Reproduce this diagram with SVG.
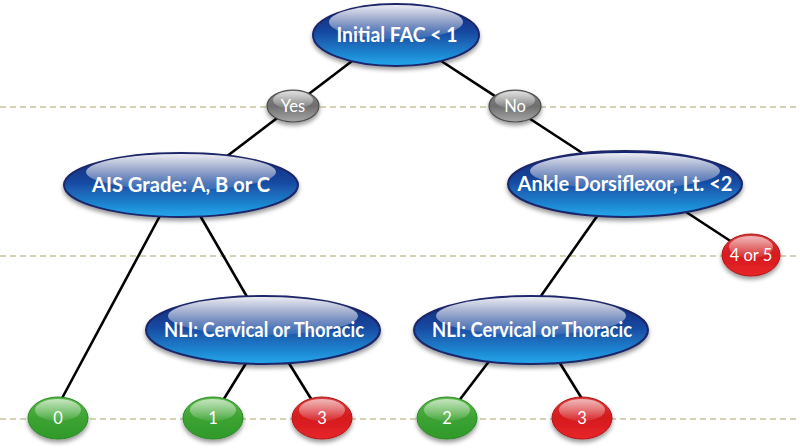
<svg xmlns="http://www.w3.org/2000/svg" width="800" height="448" viewBox="0 0 800 448">
<defs>
<linearGradient id="gBlue" x1="0" y1="0" x2="0" y2="1">
<stop offset="0" stop-color="#0f2470"/>
<stop offset="0.45" stop-color="#1848a0"/>
<stop offset="1" stop-color="#22a8ec"/>
</linearGradient>
<linearGradient id="gGray" x1="0" y1="0" x2="0" y2="1">
<stop offset="0" stop-color="#8a8a8a"/>
<stop offset="0.5" stop-color="#6e6e6e"/>
<stop offset="1" stop-color="#a8a8a8"/>
</linearGradient>
<linearGradient id="gGreen" x1="0" y1="0" x2="0" y2="1">
<stop offset="0" stop-color="#5cb84a"/>
<stop offset="0.5" stop-color="#3ca332"/>
<stop offset="1" stop-color="#2f9a2a"/>
</linearGradient>
<linearGradient id="gRed" x1="0" y1="0" x2="0" y2="1">
<stop offset="0" stop-color="#d83a3a"/>
<stop offset="0.5" stop-color="#d51a1e"/>
<stop offset="1" stop-color="#e8262a"/>
</linearGradient>
<linearGradient id="gGloss" x1="0" y1="0" x2="0" y2="1">
<stop offset="0" stop-color="#ffffff" stop-opacity="0.92"/>
<stop offset="1" stop-color="#ffffff" stop-opacity="0.1"/>
</linearGradient>
<filter id="sh" x="-20%" y="-30%" width="140%" height="170%">
<feDropShadow dx="0" dy="3" stdDeviation="2" flood-color="#000" flood-opacity="0.4"/>
</filter>
</defs>
<style>
.dash{stroke:#c9c39c;stroke-width:1.6;stroke-dasharray:6 4;fill:none}
.con line{stroke:#000;stroke-width:2.6}
.blue{fill:url(#gBlue);stroke:#1b2568;stroke-width:2;filter:url(#sh)}
.gray{fill:url(#gGray);stroke:#4a4a4a;stroke-width:1.2;filter:url(#sh)}
.green{fill:url(#gGreen);stroke:#2a8a26;stroke-width:1;filter:url(#sh)}
.red{fill:url(#gRed);stroke:#b01418;stroke-width:1;filter:url(#sh)}
.gloss{fill:url(#gGloss)}
.big{font-family:Lato,"Open Sans","Liberation Sans",sans-serif;font-weight:bold;font-size:20.5px;fill:#fff;text-anchor:middle}
.sm{font-family:Lato,"Open Sans","Liberation Sans",sans-serif;font-size:16.5px;fill:#fff;text-anchor:middle}
</style>
<rect width="800" height="448" fill="#fff"/>
<g id="guides">
<line class="dash" x1="0" y1="107" x2="800" y2="107"/>
<line class="dash" x1="0" y1="256" x2="800" y2="256"/>
<line class="dash" x1="0" y1="419" x2="796" y2="419"/>
</g>
<g id="connectors" class="con">
<line x1="360" y1="55" x2="222" y2="160"/>
<line x1="432" y1="55" x2="590" y2="158"/>
<line x1="162" y1="212" x2="60" y2="402"/>
<line x1="198" y1="212" x2="250" y2="302"/>
<line x1="600" y1="212" x2="536" y2="303"/>
<line x1="680" y1="208" x2="735" y2="244"/>
<line x1="248" y1="360" x2="222" y2="402"/>
<line x1="287" y1="360" x2="313" y2="402"/>
<line x1="490" y1="360" x2="458" y2="402"/>
<line x1="558" y1="360" x2="584" y2="402"/>
</g>
<g id="n-initial">
<ellipse class="blue" cx="396" cy="35" rx="83" ry="31"/>
<ellipse class="gloss" cx="396" cy="22" rx="67" ry="17"/>
<text class="big" x="397" y="42" textLength="121" lengthAdjust="spacingAndGlyphs">Initial FAC &lt; 1</text>
</g>
<g id="n-yes">
<ellipse class="gray" cx="293" cy="106" rx="26" ry="16"/>
<ellipse class="gloss" cx="293" cy="100" rx="20" ry="9" opacity="0.8"/>
<text class="sm" x="293" y="112">Yes</text>
</g>
<g id="n-no">
<ellipse class="gray" cx="515" cy="106" rx="26" ry="16"/>
<ellipse class="gloss" cx="515" cy="100" rx="20" ry="9" opacity="0.8"/>
<text class="sm" x="515" y="112">No</text>
</g>
<g id="n-ais">
<ellipse class="blue" cx="181" cy="185" rx="117" ry="32"/>
<ellipse class="gloss" cx="181" cy="172" rx="95" ry="18"/>
<text class="big" x="181" y="192" textLength="178" lengthAdjust="spacingAndGlyphs">AIS Grade: A, B or C</text>
</g>
<g id="n-ankle">
<ellipse class="blue" cx="625" cy="184" rx="117" ry="33"/>
<ellipse class="gloss" cx="625" cy="171" rx="95" ry="18"/>
<text class="big" x="625" y="191" textLength="215" lengthAdjust="spacingAndGlyphs">Ankle Dorsiflexor, Lt. &lt;2</text>
</g>
<g id="n-45">
<ellipse class="red" cx="751" cy="255" rx="29" ry="21"/>
<ellipse class="gloss" cx="751" cy="247" rx="22" ry="11" opacity="0.7"/>
<text class="sm" x="751" y="261">4 or 5</text>
</g>
<g id="n-nli1">
<ellipse class="blue" cx="263" cy="330" rx="117" ry="34"/>
<ellipse class="gloss" cx="263" cy="316" rx="95" ry="19"/>
<text class="big" x="264" y="337" textLength="200" lengthAdjust="spacingAndGlyphs">NLI: Cervical or Thoracic</text>
</g>
<g id="n-nli2">
<ellipse class="blue" cx="531" cy="330" rx="117" ry="34"/>
<ellipse class="gloss" cx="531" cy="316" rx="95" ry="19"/>
<text class="big" x="532" y="337" textLength="200" lengthAdjust="spacingAndGlyphs">NLI: Cervical or Thoracic</text>
</g>
<g id="n-0">
<ellipse class="green" cx="58" cy="418" rx="30" ry="21"/>
<ellipse class="gloss" cx="58" cy="410" rx="23" ry="11" opacity="0.7"/>
<text class="sm" x="58" y="424">0</text>
</g>
<g id="n-1">
<ellipse class="green" cx="213" cy="418" rx="30" ry="21"/>
<ellipse class="gloss" cx="213" cy="410" rx="23" ry="11" opacity="0.7"/>
<text class="sm" x="213" y="424">1</text>
</g>
<g id="n-3a">
<ellipse class="red" cx="322" cy="418" rx="30" ry="21"/>
<ellipse class="gloss" cx="322" cy="410" rx="23" ry="11" opacity="0.7"/>
<text class="sm" x="322" y="424">3</text>
</g>
<g id="n-2">
<ellipse class="green" cx="447" cy="418" rx="30" ry="21"/>
<ellipse class="gloss" cx="447" cy="410" rx="23" ry="11" opacity="0.7"/>
<text class="sm" x="447" y="424">2</text>
</g>
<g id="n-3b">
<ellipse class="red" cx="582" cy="418" rx="30" ry="21"/>
<ellipse class="gloss" cx="582" cy="410" rx="23" ry="11" opacity="0.7"/>
<text class="sm" x="582" y="424">3</text>
</g>
</svg>
